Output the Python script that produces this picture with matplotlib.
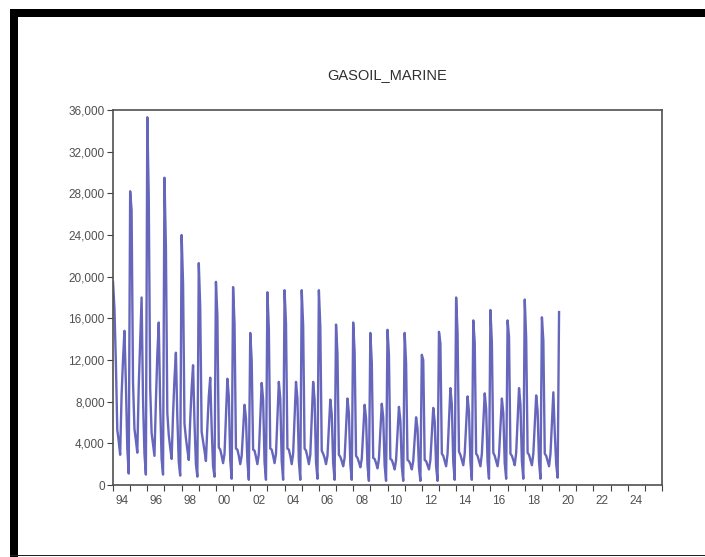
import matplotlib
matplotlib.use('Agg')
import matplotlib.pyplot as plt
from matplotlib.patches import Rectangle

plt.rcParams['font.family'] = ['Liberation Sans', 'DejaVu Sans']

# valeurs mensuelles, 1994 -> 2019 (+ janvier 2020)
annees = list(range(1994, 2020))
jan = [19500, 28200, 35300, 29500, 24000, 21300, 19500, 19000, 14600, 18500, 18700, 18700, 18700,
       15400, 15600, 14600, 14900, 14600, 12500, 14700, 18000, 15800, 16800, 15800, 17800, 16100, 16600]
feb = [17000, 26400, 27700, 22900, 19400, 17100, 16300, 15500, 12000, 15000, 15500, 15300, 15200,
       12600, 12800, 11800, 12500, 11700, 12000, 13600, 14600, 13700, 13700, 14200, 14100, 13900]
mar = [11800, 9900, 9300, 6900, 5900, 5100, 3600, 3500, 3400, 3500, 3500, 3500, 3300,
       2900, 2800, 2600, 2500, 2400, 2400, 3000, 3200, 3000, 3100, 3000, 3100, 3000]
apr = [5300, 5400, 5000, 4800, 4500, 4200, 3400, 3400, 3300, 3400, 3400, 3300, 3000,
       2700, 2600, 2500, 2400, 2300, 2300, 2800, 2900, 2800, 2800, 2800, 2900, 2800]
may = [4200, 4300, 3900, 3600, 3400, 3300, 2800, 2800, 2700, 2800, 2800, 2700, 2600,
       2300, 2200, 2100, 2000, 2000, 1900, 2300, 2400, 2300, 2300, 2400, 2400, 2300]
jun = [2900, 3100, 2800, 2500, 2400, 2300, 2100, 2000, 2000, 2100, 2000, 2000, 2000,
       1800, 1700, 1600, 1500, 1500, 1500, 1800, 1900, 1800, 1800, 1900, 1900, 1800]
jul = [8600, 9500, 8000, 6800, 6200, 5600, 3000, 2800, 3000, 3000, 3000, 2900, 2800,
       2600, 2500, 2500, 2400, 2300, 2400, 3000, 3000, 3000, 2900, 3100, 3000, 3000]
aug = [12000, 13800, 12500, 10200, 9300, 8500, 6500, 5200, 6300, 6400, 6400, 6300, 5500,
       5500, 5100, 5200, 5000, 4400, 4900, 6200, 5700, 5900, 5500, 6200, 5700, 5900]
sep = [14800, 18000, 15600, 12700, 11500, 10300, 10200, 7700, 9800, 9900, 9900, 9900, 8200,
       8300, 7700, 7800, 7500, 6500, 7400, 9300, 8500, 8800, 8300, 9300, 8600, 8900]
oct_ = [9800, 8200, 7800, 6500, 6000, 5500, 8500, 6400, 8200, 8300, 8300, 8200, 6800,
        6900, 6400, 6500, 6200, 5400, 6100, 7700, 7000, 7300, 6900, 7700, 7100, 5000]
nov = [3500, 3000, 2500, 2200, 2000, 1800, 2400, 2300, 2200, 2300, 2300, 2200, 2100,
       2000, 1900, 1900, 1800, 1700, 1800, 2200, 2200, 2200, 2100, 2300, 2200, 2000]
dec = [1100, 1000, 1000, 900, 800, 800, 600, 500, 500, 500, 500, 600, 500,
       500, 400, 400, 400, 400, 400, 500, 500, 600, 600, 600, 600, 700]

mois = [jan, feb, mar, apr, may, jun, jul, aug, sep, oct_, nov, dec]

# construire la serie mensuelle
temps = []
valeurs = []
for i, an in enumerate(annees):
    for m in range(12):
        temps.append(an + m / 12)
        valeurs.append(mois[m][i])
temps.append(2020)
valeurs.append(jan[-1])

W, H = 705, 557
fig = plt.figure(figsize=(W / 100, H / 100), dpi=100)

# cadre noir autour de l'image
fig.add_artist(Rectangle((10 / W, 1 - 17 / H), 1, 8 / H, transform=fig.transFigure,
                         color='black', lw=0))
fig.add_artist(Rectangle((10 / W, 0), 8 / W, 1 - 9 / H, transform=fig.transFigure,
                         color='black', lw=0))
fig.add_artist(Rectangle((10 / W, 1 - 556 / H), 1, 1.5 / H, transform=fig.transFigure,
                         color='#202020', lw=0))

ax = fig.add_axes([113 / W, 1 - 485 / H, 549 / W, 375 / H])
ax.plot(temps, valeurs, color='#6666bc', lw=1.7)

ax.set_xlim(1994, 2026)
ax.set_ylim(0, 36000)

ax.set_yticks(range(0, 36001, 4000))
ax.set_yticklabels([f'{v:,}' for v in range(0, 36001, 4000)])
ax.set_xticks(range(1994, 2027))
ax.set_xticklabels([])
ax.set_xticks([a + 0.5 for a in range(1994, 2026, 2)], minor=True)
ax.set_xticklabels([f'{a % 100:02d}' for a in range(1994, 2026, 2)], minor=True)

ax.tick_params(axis='y', direction='out', length=4, width=0.8, color='#404040',
               labelsize=8.5, labelcolor='#505050', pad=2, right=False)
ax.tick_params(axis='x', which='major', direction='out', length=4, width=0.8,
               color='#404040', top=False)
ax.tick_params(axis='x', which='minor', length=0, labelsize=8.5, labelcolor='#505050', pad=7)

for s in ax.spines.values():
    s.set_color('#505050')
    s.set_linewidth(1.2)

ax.set_title('GASOIL_MARINE', fontsize=10.5, color='#303030', pad=22)

plt.savefig('out.png', dpi=100)
